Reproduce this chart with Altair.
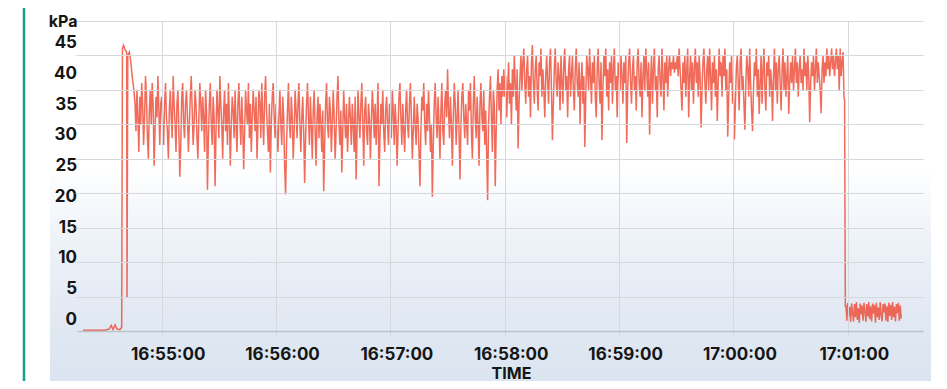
import altair as alt
import pandas as pd
from datetime import datetime, timedelta

BASE = datetime(2020, 1, 1, 16, 55, 0)

# --- pressure readings (kPa); times in seconds relative to 16:55:00 ---
startup_t = [-41.3, -30.0, -27.5, -26.5, -25.5, -24.5, -23.5, -22.0, -21.0,
             -20.6, -20.0, -19.2, -18.4, -18.2, -17.8, -17.0, -16.3, -15.5, -14.8]
startup_v = [0.1, 0.1, 0.3, 0.8, 0.2, 0.9, 0.3, 0.2, 0.5,
             41, 41.5, 40.8, 40.5, 4.8, 40, 40.5, 39.3, 37, 35.5]

# half-second readings, each list starting at the given second
pre_1655 = [33, 29, 35, 31, 26, 34, 30, 36, 33, 27, 31, 37, 34, 28, 25, 32, 35, 30, 36, 33,
            24, 29, 34, 31, 37, 32, 27, 33]
min_1655 = [34, 30, 27, 33, 36, 31, 29, 25, 32, 35, 31, 28, 37, 33, 30, 26, 33, 35, 29, 22.4,
            27, 34, 36, 30, 28, 33, 35, 31, 26, 30, 34, 37, 32, 27, 30, 35, 33, 28, 25, 31,
            36, 33, 29, 34, 31, 26, 35, 32, 20.5, 28, 33, 36, 30, 27, 34, 31, 21, 29, 35, 32,
            28, 37, 33, 30, 25, 32, 35, 29, 33, 27, 36, 31, 24, 30, 34, 32, 28, 35, 30, 26,
            33, 36, 31, 27, 34, 30, 23.5, 29, 35, 32, 30, 36, 28, 33, 26, 31, 35, 32, 29, 34,
            25, 30, 35, 33, 28, 36, 31, 27, 34, 37, 32, 29, 26, 33, 23, 30, 34, 36, 31, 28]
min_1656 = [33, 29, 26, 31, 35, 30, 27, 34, 31, 24, 19.8, 27, 32, 36, 30, 28, 34, 31, 25, 29,
            35, 32, 28, 33, 36, 30, 26, 31, 34, 29, 21.5, 28, 33, 36, 31, 27, 34, 30, 25, 32,
            35, 29, 24, 31, 34, 28, 33, 30, 26, 32, 20.3, 27, 33, 36, 30, 28, 34, 32, 26, 30,
            35, 31, 25, 29, 34, 37, 30, 27, 32, 23, 29, 35, 31, 28, 33, 26, 30, 34, 31, 27,
            33, 30, 26, 34, 22, 29, 35, 31, 28, 33, 36, 30, 24, 32, 34, 29, 27, 33, 31, 25,
            30, 35, 32, 28, 33, 27, 31, 36, 21, 28, 33, 30, 35, 29, 26, 32, 34, 30, 27, 33]
min_1657 = [31, 28, 35, 32, 27, 33, 30, 24, 29, 34, 36, 31, 27, 33, 29, 26, 32, 35, 30, 28,
            33, 36, 31, 25, 29, 34, 30, 27, 33, 31, 26, 21, 29, 34, 32, 36, 30, 27, 33, 29,
            35, 31, 26, 30, 19.5, 27, 33, 36, 31, 28, 34, 30, 25, 32, 36, 29, 27, 33, 35, 31,
            38, 32, 28, 34, 30, 24, 31, 36, 33, 27, 31, 35, 29, 22, 30, 34, 36, 31, 28, 33,
            30, 27, 35, 32, 36, 29, 25, 33, 37, 31, 28, 34, 30, 24, 33, 36, 31, 29, 35, 27,
            32, 26, 19, 30, 34, 37, 31, 26, 35, 33, 21, 29, 35, 38, 32, 36, 30, 37, 34, 38]
min_1658 = [34, 37, 31, 35, 39, 33, 36, 30, 38, 34, 40, 36, 32, 38, 26.5, 33, 37, 40, 35, 39,
            41, 36, 33, 38, 40, 34, 37, 31, 39, 41.5, 36, 33, 38, 40, 35, 32, 39, 37, 41, 34,
            38, 35, 31, 37, 40, 36, 33, 39, 41, 35, 27.7, 33, 38, 41, 36, 34, 39, 37, 32, 40,
            36, 33, 39, 41, 35, 37, 31, 38, 40, 34, 37, 40, 35, 32, 38, 41, 36, 34, 39, 30,
            36, 39, 33, 37, 26.7, 34, 40, 38, 35, 41, 37, 33, 39, 36, 40, 34, 31, 38, 41, 36,
            33, 39, 27.7, 35, 40, 37, 41, 34, 38, 32, 39, 36, 40, 33, 38, 41, 35, 37, 31, 39]
min_1659 = [38, 35, 40, 37, 33, 39, 36, 40, 27.3, 35, 39, 41, 36, 33, 38, 40, 35, 37, 32, 39,
            41, 36, 34, 39, 31, 37, 40, 35, 41, 38, 34, 39, 28.5, 36, 40, 33, 38, 41, 35, 37,
            31, 38, 40, 36, 34, 41, 37, 32, 39, 36, 40, 34, 38, 40, 37, 39, 38, 40, 37.5, 39,
            38, 40, 37, 41, 38, 35, 32, 39, 36, 40, 34, 38, 41, 31, 37, 40, 35, 39, 33, 38,
            41, 36, 39, 34, 40, 37, 29.5, 35, 39, 41, 36, 33, 38, 40, 35, 41, 37, 32, 39, 36,
            40, 34, 38, 30.5, 36, 41, 37, 39, 34, 40, 37, 41, 35, 38, 28.2, 34, 39, 36, 40, 33]
min_1700 = [35, 27.8, 33, 38, 40, 36, 32, 39, 41, 35, 37, 33, 29.2, 36, 40, 38, 34, 41, 36, 32,
            29, 35, 39, 37, 41, 34, 38, 31.5, 36, 40, 33, 38, 41, 35, 32, 39, 37, 40, 34, 38,
            36, 30.5, 37, 41, 35, 39, 33, 38, 40, 36, 32, 38, 41, 35, 39, 34, 37, 40, 31.5, 36,
            39, 36, 40, 35, 38, 41, 36, 39, 34, 38, 40, 36, 38, 35, 41, 37, 39, 35, 40, 37,
            30.3, 36, 39, 37, 40, 35, 38, 41, 36, 39, 37, 35, 31.6, 38, 40, 36, 39, 37, 41, 38,
            40, 37, 39, 41, 38, 40, 37, 39, 41, 38, 40, 35, 41, 37, 39, 40.5]
minute_starts = [-14, 0, 60, 120, 180, 240, 300]
minute_lists = [pre_1655, min_1655, min_1656, min_1657, min_1658, min_1659, min_1700]

shutdown_t = [358.0, 358.3, 358.7]
shutdown_v = [34, 33.5, 3.5]

# half-second readings after shutdown
tail_start = 359.0
tail = [3.8, 1.5, 4.1, 2.2, 3.5, 1.3, 4.0, 2.6, 1.4, 3.9, 2.0, 4.2, 1.6, 3.3, 1.2, 4.0, 2.4, 3.7,
        1.5, 4.1, 2.8, 1.3, 3.9, 2.1, 4.2, 1.7, 3.6, 1.4, 4.0, 2.5, 3.8, 1.2, 4.1, 2.0, 3.4, 1.6,
        4.2, 2.3, 1.4, 3.9, 2.7, 4.0, 1.5, 3.6, 1.3, 4.1, 2.2, 3.8, 1.6, 4.2, 2.0, 3.5, 1.4, 3.9,
        2.6, 4.1, 1.5, 3.7, 1.8]

y_ticks = [0, 5, 10, 15, 20, 25, 30, 35, 40, 45]
x_ticks_min = [(16, 55), (16, 56), (16, 57), (16, 58), (16, 59), (17, 0), (17, 1)]

# --- build table ---
secs, vals = [], []
secs += startup_t; vals += startup_v
for s0, lst in zip(minute_starts, minute_lists):
    secs += [s0 + 0.5 * i for i in range(len(lst))]
    vals += lst
secs += shutdown_t; vals += shutdown_v
secs += [tail_start + 0.5 * i for i in range(len(tail))]
vals += tail

df = pd.DataFrame({
    "time": [BASE + timedelta(seconds=s) for s in secs],
    "kpa": vals,
    "i": list(range(len(secs))),
})

FONT = "Inter"
GRID = "#d5d9de"


def dt(h, m, s=0, ms=0):
    return alt.DateTime(year=2020, month=1, date=1, hours=h, minutes=m, seconds=s, milliseconds=ms)


x_scale = alt.Scale(domain=[dt(16, 54, 16, 80), dt(17, 1, 39, 450)])
y_scale = alt.Scale(domain=[0, 45], nice=False, zero=False)

one = alt.Data(values=[{}])

bg = alt.Chart(one).mark_rect(
    clip=False,
    fill=alt.Gradient(
        gradient="linear", x1=0, x2=0, y1=0, y2=1,
        stops=[
            alt.GradientStop(offset=0, color="#ffffff"),
            alt.GradientStop(offset=0.42, color="#ffffff"),
            alt.GradientStop(offset=0.62, color="#edf2f8"),
            alt.GradientStop(offset=0.8, color="#e2e9f3"),
            alt.GradientStop(offset=1, color="#d9e3ef"),
        ],
    ),
).encode(x=alt.value(-28), x2=alt.value(870), y=alt.value(-21), y2=alt.value(372))

green = alt.Chart(one).mark_rule(color="#16a085", strokeWidth=2.5, clip=False).encode(
    x=alt.value(-54), y=alt.value(-21), y2=alt.value(372)
)

line = alt.Chart(df).mark_line(color="#ee4631", strokeWidth=1.5, opacity=0.8, clip=True).encode(
    x=alt.X(
        "time:T", scale=x_scale,
        axis=alt.Axis(
            values=[dt(h, m) for h, m in x_ticks_min], format="%H:%M:%S",
            labelFont=FONT, labelFontSize=17, labelFontWeight="bold", labelColor="#151515",
            labelOffset=6, labelPadding=10, tickSize=5, tickColor=GRID,
            grid=True, gridColor=GRID, domainColor="#bcc3cb", domainWidth=1.5,
            title="TIME", titleFont=FONT, titleFontSize=16, titleFontWeight="bold",
            titleColor="#151515", titleX=433, titleY=47, titleBaseline="alphabetic",
            labelFlush=False, zindex=1,
        ),
    ),
    y=alt.Y(
        "kpa:Q", scale=y_scale,
        axis=alt.Axis(
            values=y_ticks, labels=False, grid=True, gridColor=GRID, domain=False,
            tickSize=3, tickColor=GRID,
            title="kPa", titleAngle=0, titleX=-1, titleY=0, titleAlign="right",
            titleBaseline="middle", titleFont=FONT, titleFontSize=16, titleFontWeight="bold",
            titleColor="#151515", zindex=1,
        ),
    ),
    order="i:Q",
)

labels = alt.Chart(pd.DataFrame({"v": y_ticks})).mark_text(
    align="right", baseline="middle", font=FONT, fontSize=17, fontWeight="bold", color="#151515"
).encode(
    x=alt.value(-1),
    y=alt.Y("v:Q", scale=alt.Scale(domain=[-1.79, 48.57], nice=False, zero=False), axis=None),
    text="v:Q",
)

chart = alt.layer(bg, green, line, labels).resolve_scale(y="independent").properties(
    width=845, height=310,
    autosize=alt.AutoSizeParams(type="none"),
    padding={"left": 70, "top": 13, "right": 8, "bottom": 50},
    background="#ffffff",
).configure_view(stroke=None)

chart.save("out.html", embed_options={"renderer": "svg", "actions": False})
